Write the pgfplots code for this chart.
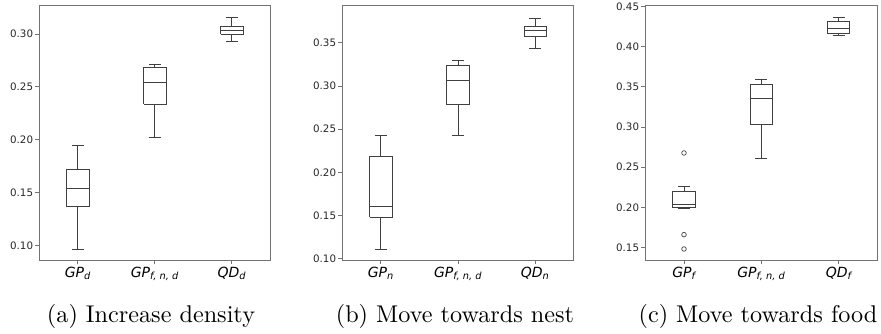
\documentclass[border=0pt]{standalone}
\usepackage{fontspec}
\usepackage{graphicx}
\usepackage{pgfplots}
\pgfplotsset{compat=1.18}
\newfontfamily\dejavu{DejaVu Sans}
\definecolor{axframe}{gray}{0.45}
\definecolor{boxc}{gray}{0.25}

\pgfplotsset{
  panel/.style={
    scale only axis,
    height=254.3pt,
    xmin=0.5, xmax=3.5,
    xtick={1,2,3},
    tick align=outside,
    tick pos=left,
    major tick length=4.5pt,
    axis line style={axframe, line width=0.8pt},
    every tick/.style={axframe, line width=0.8pt},
    yticklabel style={font=\dejavu\fontsize{10.3}{12}\selectfont, text=black!85, inner sep=1.5pt,
      /pgf/number format/assume math mode=true, /pgf/number format/fixed, /pgf/number format/fixed zerofill, /pgf/number format/precision=2},
    xticklabel style={font=\dejavu\itshape\fontsize{14}{16}\selectfont, text=black, inner sep=2pt},
  },
  bx/.style={draw=boxc, line width=0.8pt, solid, no markers, sharp plot, forget plot},
  outl/.style={only marks, mark=o, mark size=2.3pt, mark options={draw=boxc, fill=none, line width=0.7pt}, forget plot},
}

% \bp{position}{lower whisker}{Q1}{median}{Q3}{upper whisker}
\newcommand{\bp}[6]{%
  \pgfmathsetmacro\bxl{#1-0.145}\pgfmathsetmacro\bxr{#1+0.145}%
  \pgfmathsetmacro\bcl{#1-0.0775}\pgfmathsetmacro\bcr{#1+0.0775}%
  \addplot[bx] coordinates {(\bxl,#3) (\bxr,#3) (\bxr,#5) (\bxl,#5) (\bxl,#3)};
  \addplot[bx] coordinates {(\bxl,#4) (\bxr,#4)};
  \addplot[bx] coordinates {(#1,#3) (#1,#2)};
  \addplot[bx] coordinates {(#1,#5) (#1,#6)};
  \addplot[bx] coordinates {(\bcl,#2) (\bcr,#2)};
  \addplot[bx] coordinates {(\bcl,#6) (\bcr,#6)};
}

\begin{document}
\begin{tikzpicture}
\path[use as bounding box] (0pt,0pt) rectangle (881pt,334pt);

% (a)
\begin{axis}[panel, at={(39.3pt,74pt)}, anchor=south west, width=231pt,
  ymin=0.0861, ymax=0.3268, ytick={0.10,0.15,0.20,0.25,0.30},
  xticklabels={GP\textsubscript{d}, GP\textsubscript{f, n, d}, QD\textsubscript{d}}]
\bp{1}{0.0962}{0.1366}{0.1539}{0.1722}{0.1946}
\bp{2}{0.2025}{0.2334}{0.2539}{0.2681}{0.2713}
\bp{3}{0.2934}{0.3000}{0.3035}{0.3073}{0.3158}
\end{axis}

% (b)
\begin{axis}[panel, at={(342.3pt,74pt)}, anchor=south west, width=231.4pt,
  ymin=0.0985, ymax=0.3931, ytick={0.10,0.15,0.20,0.25,0.30,0.35},
  xticklabels={GP\textsubscript{n}, GP\textsubscript{f, n, d}, QD\textsubscript{n}}]
\bp{1}{0.1108}{0.1478}{0.1601}{0.2183}{0.2425}
\bp{2}{0.2433}{0.2784}{0.3065}{0.3234}{0.3292}
\bp{3}{0.3442}{0.3573}{0.3639}{0.3693}{0.3789}
\end{axis}

% (c)
\begin{axis}[panel, at={(645.3pt,74pt)}, anchor=south west, width=232pt,
  ymin=0.1346, ymax=0.4508, ytick={0.15,0.20,0.25,0.30,0.35,0.40,0.45},
  xticklabels={GP\textsubscript{f}, GP\textsubscript{f, n, d}, QD\textsubscript{f}}]
\bp{1}{0.1989}{0.1997}{0.2038}{0.2196}{0.2266}
\addplot[outl] coordinates {(1,0.2677) (1,0.1661) (1,0.1483)};
\bp{2}{0.2610}{0.3029}{0.3356}{0.3530}{0.3588}
\bp{3}{0.4139}{0.4164}{0.4226}{0.4309}{0.4363}
\end{axis}

\node[anchor=base, inner sep=0pt] at (151pt,11.3pt) {\scalebox{2.42}{(a) Increase density}};
\node[anchor=base, inner sep=0pt] at (455pt,11.3pt) {\scalebox{2.42}{(b) Move towards nest}};
\node[anchor=base, inner sep=0pt] at (758pt,11.3pt) {\scalebox{2.42}{(c) Move towards food}};
\end{tikzpicture}
\end{document}
